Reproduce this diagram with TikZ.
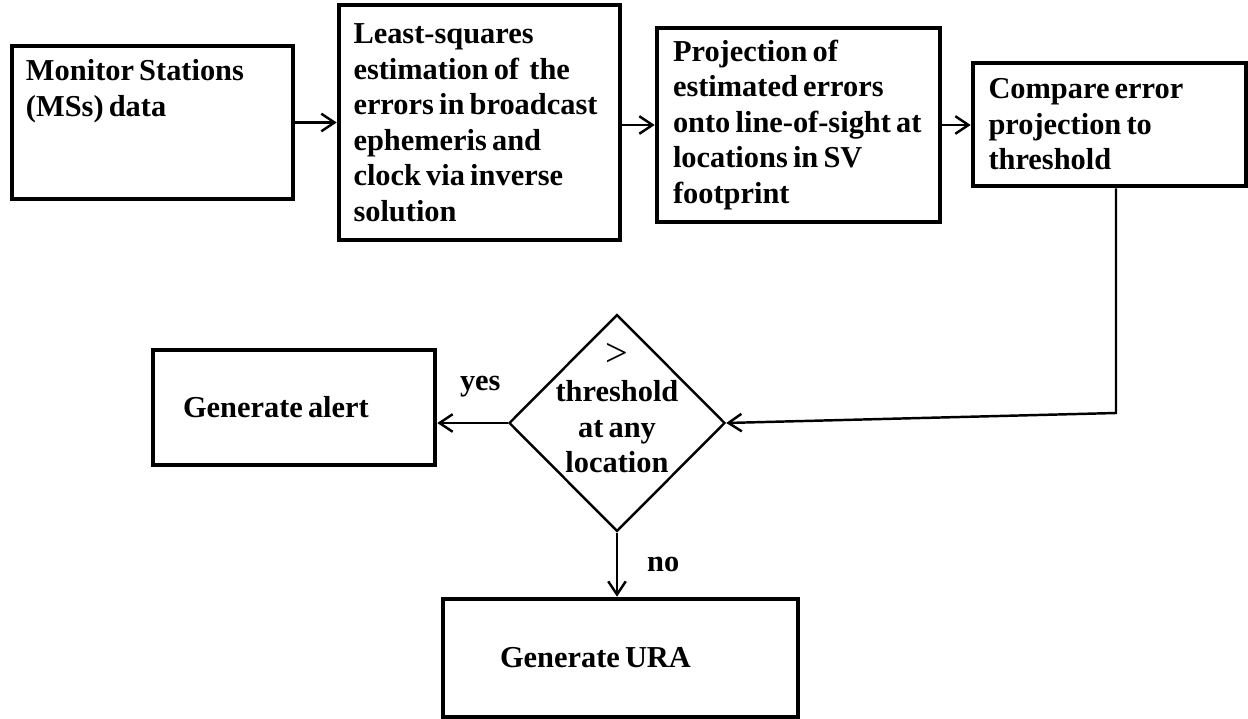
\documentclass[tikz,border=0pt]{standalone}
\usepackage{fontspec}
\setmainfont{Liberation Serif}[WordSpace=0.68]
\usetikzlibrary{shapes.geometric,arrows.meta}
\begin{document}
\begin{tikzpicture}[>={Straight Barb[length=7.5pt,width=10pt]},
        every node/.style={font=\fontsize{17.3pt}{20.2pt}\selectfont\bfseries, inner sep=0pt},
        box/.style={draw, line width=2.6pt, align=flush left},
        decision/.style={diamond, draw, line width=1.4pt, minimum width=4.32cm, minimum height=4.34cm},
        arr/.style={->, line width=1.4pt}]
        \useasboundingbox (0,0) rectangle (24.96,-14.38);
        \node[box, minimum width=5.62cm, minimum height=3.06cm, text width=5.06cm, text depth=2.1cm] (ms) at (3.05,-2.45) {Monitor Stations\\(MSs) data};
        \node[box, minimum width=5.62cm, minimum height=4.70cm, text width=5.04cm] (lsq) at (9.59,-2.45) {Least-squares\\estimation of\ \ the\\errors~in~broadcast\\ephemeris and\\clock via inverse\\solution};
        \node[box, minimum width=5.66cm, minimum height=3.88cm, text width=5.02cm] (proj) at (15.97,-2.50) {Projection of\\estimated errors\\onto~line-of-sight~at\\locations in SV\\footprint};
        \node[box, minimum width=5.46cm, minimum height=2.46cm, text width=4.84cm] (cmp) at (22.19,-2.49) {Compare error\\projection to\\threshold};
        \node[decision] (dec) at (12.34,-8.46) {};
        \node[align=center] (dec-text) at ([yshift=0.3cm]dec.center) {{\mdseries\fontsize{23pt}{20.2pt}\selectfont>}\\threshold\\at any\\location};
        \node[box, minimum width=5.64cm, minimum height=2.30cm, text width=4.44cm] (alert) at (5.88,-8.15) {Generate alert};
        \node[box, minimum width=7.10cm, minimum height=2.36cm, text width=4.82cm] (ura) at (12.41,-13.16) {Generate URA};
        \coordinate (turn) at (22.32,-8.26);
        \draw[arr] (ms.east) -- (lsq.west);
        \draw[arr] (proj.west -| lsq.east) -- (proj.west);
        \draw[arr] (proj.east) -- (proj.east -| cmp.west);
        \draw[arr] (cmp.south -| turn) -- (turn) -- (dec.east);
        \draw[arr] (dec.west) -- (dec.west -| alert.east) node[pos=0.39, above=0.5cm] (yes) {yes};
        \draw[arr] (dec.south) -- (dec.south |- ura.north) node[midway, right=0.58cm] (no) {no};
\end{tikzpicture}
\end{document}
